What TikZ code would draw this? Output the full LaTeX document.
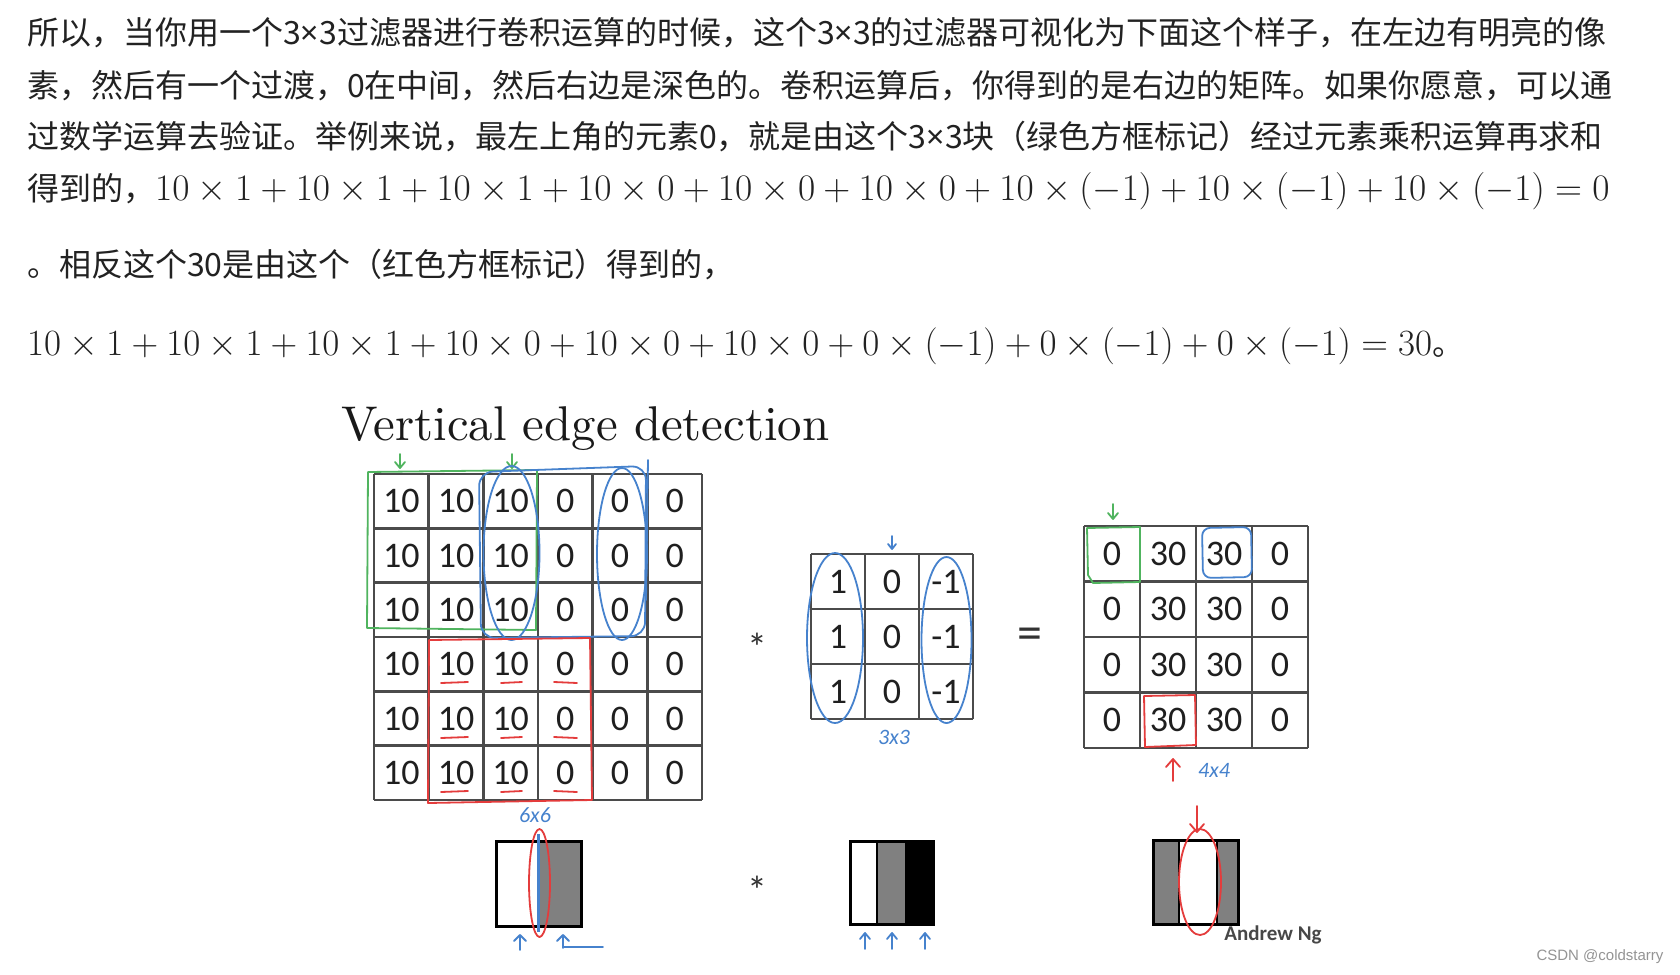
\RequirePackage{fix-cm}
\documentclass[tikz,border=0pt]{standalone}
\usepackage{fontspec}
\newfontfamily\cjk{Noto Sans CJK SC}
\newfontfamily\calfont{Carlito}
\newfontfamily\arialfont{Liberation Sans}
\newfontfamily\latinsans{Noto Sans}
\newfontfamily\lmten{lmroman10-regular}[Extension=.otf]
\newcommand{\tx}{{\latinsans ×}}
\definecolor{hblue}{RGB}{70,130,205}
\definecolor{hgreen}{RGB}{80,180,95}
\definecolor{hred}{RGB}{228,60,60}
\definecolor{gridgray}{RGB}{75,75,75}
\definecolor{txt}{RGB}{34,34,34}
\definecolor{midgray}{RGB}{128,128,128}
\begin{document}
\begin{tikzpicture}[x=1pt,y=-1pt,
  para/.style={anchor=base west,inner sep=0pt,text=txt,font=\cjk\fontsize{32}{38}\selectfont},
  cellnum/.style={inner sep=0pt,font=\calfont\fontsize{36}{40}\selectfont,text=black!88},
  gridline/.style={draw=gridgray,line width=2.4pt},
  hand/.style={line width=1.8pt,line cap=round,line join=round},
  handtext/.style={inner sep=0pt,font=\calfont\itshape\fontsize{22}{24}\selectfont,text=hblue},
  bordered/.style={draw=black,line width=3pt},
  divider/.style={draw=black,line width=2.5pt}
]
\useasboundingbox[fill=white] (0,0) rectangle (1680,974);

% ---------- paragraph ----------
\node[para] (l1) at (27,45) {所以，当你用一个3\tx3过滤器进行卷积运算的时候，这个3\tx3的过滤器可视化为下面这个样子，在左边有明亮的像};
\node[para] (l2) at (27,97) {素，然后有一个过渡，0在中间，然后右边是深色的。卷积运算后，你得到的是右边的矩阵。如果你愿意，可以通};
\node[para] (l3) at (27,148) {过数学运算去验证。举例来说，最左上角的元素0，就是由这个3\tx3块（绿色方框标记）经过元素乘积运算再求和};
\node[para] (l4) at (27,200) {得到的，{\fontsize{37.4}{42}\selectfont$10\times1+10\times1+10\times1+10\times0+10\times0+10\times0+10\times(-1)+10\times(-1)+10\times(-1)=0$}};
\node[para] (l5) at (27,276) {。相反这个30是由这个（红色方框标记）得到的，};
\node[para] (l6) at (27,355) {{\fontsize{37}{42}\selectfont$10\times1+10\times1+10\times1+10\times0+10\times0+10\times0+0\times(-1)+0\times(-1)+0\times(-1)=30$}。};

% ---------- title ----------
\node[anchor=base west,inner sep=0pt,text=black!90,font=\lmten\fontsize{48.8}{56}\selectfont] (title) at (341,440) {Vertical edge detection};

% ---------- 6x6 input ----------
\foreach \i in {0,...,6} {
  \draw[gridline] ({374+\i*54.667},474) -- ({374+\i*54.667},800);
  \draw[gridline] (374,{474+\i*54.333}) -- (702,{474+\i*54.333});
}
\foreach \r in {1,...,6} {
  \foreach \c/\v in {1/10,2/10,3/10,4/0,5/0,6/0} {
    \node[cellnum] (a\r\c) at ({374+(\c-0.5)*54.667},{474+(\r-0.5)*54.333}) {\v};
  }
}
% green window + arrows
\draw[hand,hgreen] (368,472) -- (537,470) -- (536,630) -- (367,628) -- cycle;
\draw[hand,hgreen] (400,454) -- (400,468) (395,462) -- (400,468) -- (405,462);
\draw[hand,hgreen] (512,454) -- (512,468) (507,462) -- (512,468) -- (517,462);
% blue marks
\draw[hand,hblue,rounded corners=14pt] (479,472) -- (646,466) -- (645,636) -- (481,638) -- cycle;
\draw[hand,hblue] (648,460) -- (646,600);
\draw[hand,hblue] (511.5,553) ellipse [x radius=28pt, y radius=87pt];
\draw[hand,hblue] (622,554) ellipse [x radius=25pt, y radius=86pt];
% red window + underlines
\draw[hand,hred] (429,640) -- (590,638) -- (592,800) -- (428,803) -- cycle;
\foreach \y in {682,737,791} {
  \draw[hand,hred] (441,\y+1) -- (468,\y);
  \draw[hand,hred] (501,\y+1) -- (522,\y);
  \draw[hand,hred] (554,\y) -- (577,\y+1);
}
\node[handtext] (s66) at (535,815) {6x6};

% ---------- operator ----------
\node[inner sep=0pt,font=\calfont\fontsize{40}{40}\selectfont,text=black!80] (star1) at (757,647) {*};

% ---------- 3x3 filter ----------
\foreach \i in {0,...,3} {
  \draw[gridline] ({811+\i*54},554) -- ({811+\i*54},719);
  \draw[gridline] (811,{554+\i*55}) -- (973,{554+\i*55});
}
\foreach \r in {1,2,3} {
  \foreach \c/\v in {1/1,2/0,3/-1} {
    \node[cellnum] (f\r\c) at ({811+(\c-0.5)*54},{554+(\r-0.5)*55}) {\v};
  }
}
\draw[hand,hblue] (892,536) -- (892,549) (888,544) -- (892,549) -- (896,544);
\draw[hand,hblue] (835,638) ellipse [x radius=28pt, y radius=85pt];
\draw[hand,hblue] (946.5,640) ellipse [x radius=25pt, y radius=83pt];
\node[handtext] (s33) at (894,737) {3x3};

\node[inner sep=0pt,font=\calfont\fontsize{50}{50}\selectfont,text=black!80] (eq) at (1030,639) {=};

% ---------- 4x4 output ----------
\foreach \i in {0,...,4} {
  \draw[gridline] ({1084+\i*56},526) -- ({1084+\i*56},748);
  \draw[gridline] (1084,{526+\i*55.5}) -- (1308,{526+\i*55.5});
}
\foreach \r in {1,...,4} {
  \foreach \c/\v in {1/0,2/30,3/30,4/0} {
    \node[cellnum] (o\r\c) at ({1084+(\c-0.5)*56},{526+(\r-0.5)*55.5}) {\v};
  }
}
\draw[hand,hgreen] (1087,528) -- (1140,527) -- (1140,582) -- (1093,583) -- (1088,575) -- cycle;
\draw[hand,hgreen] (1113,504) -- (1113,519) (1108,513) -- (1113,519) -- (1118,513);
\draw[hand,hblue,rounded corners=8pt] (1202,528) -- (1251,527) -- (1252,577) -- (1203,578) -- cycle;
\draw[hand,hred] (1144,696) -- (1195,695) -- (1196,745) -- (1145,747) -- cycle;
\draw[hand,hred] (1173,781) -- (1173,759) (1166,767) -- (1173,759) -- (1180,767);
\node[handtext] (s44) at (1214,770) {4x4};

% ---------- bottom images ----------
\fill[white] (496,841) rectangle (538,926);
\fill[midgray] (538,841) rectangle (581,926);
\draw[bordered] (496,841) rectangle (581,926);
\draw[hblue,line width=3pt] (538,834) -- (538,932);
\draw[hand,hred] (539.5,883) ellipse [x radius=10.5pt, y radius=54pt];
\draw[hand,hblue] (520,950) -- (520,935) (514,941) -- (520,935) -- (526,941);
\draw[hand,hblue] (563,948) -- (563,935) (557,941) -- (563,935) -- (569,941);
\draw[hand,hblue] (563,947) -- (603,947);

\node[inner sep=0pt,font=\calfont\fontsize{40}{40}\selectfont,text=black!80] (star2) at (757,890) {*};

\fill[white] (850,841) rectangle (877,924);
\fill[midgray] (877,841) rectangle (905,924);
\fill[black] (905,841) rectangle (933,924);
\draw[divider] (877,841) -- (877,924);
\draw[bordered] (850,841) rectangle (933,924);
\foreach \x in {865,892,925} {
  \draw[hand,hblue] (\x,949) -- (\x,933) (\x-5,939) -- (\x,933) -- (\x+5,939);
}

\fill[midgray] (1153,840) rectangle (1179,924);
\fill[white] (1179,840) rectangle (1217,924);
\fill[midgray] (1217,840) rectangle (1238,924);
\draw[divider] (1179,840) -- (1179,924) (1217,840) -- (1217,924);
\draw[bordered] (1153,840) rectangle (1238,924);
\draw[hand,hred] (1200,882) ellipse [x radius=21pt, y radius=53pt];
\draw[hand,hred] (1197,806) -- (1197,832) (1190,824) -- (1197,832) -- (1204,824);

\node[inner sep=0pt,font=\calfont\bfseries\fontsize{21}{24}\selectfont,text=black!72] (author) at (1273,935) {Andrew Ng};
\node[inner sep=0pt,font=\arialfont\fontsize{15}{18}\selectfont,text=black!42] (mark) at (1600,957) {CSDN @coldstarry};
\end{tikzpicture}
\end{document}
